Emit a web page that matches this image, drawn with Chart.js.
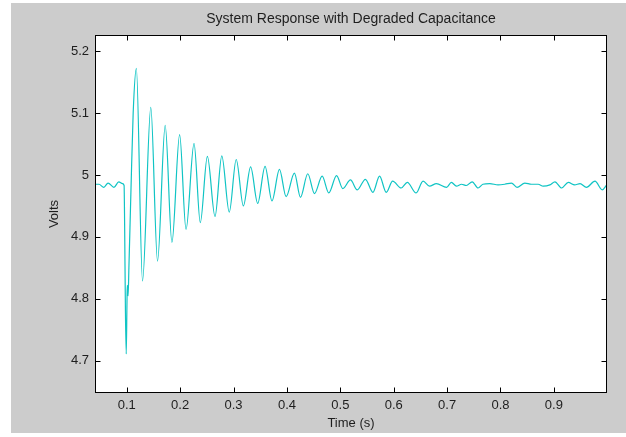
<!DOCTYPE html>
<html>
<head>
<meta charset="utf-8">
<script src="https://cdn.jsdelivr.net/npm/chart.js@4/dist/chart.umd.min.js"></script>
<style>
  html, body { margin: 0; padding: 0; background: #ffffff; width: 626px; height: 437px; overflow: hidden; }
  #wrap { position: absolute; left: 11px; top: 3px; width: 615px; height: 430px; background: #cccccc; }
</style>
</head>
<body>
<div id="wrap"><canvas id="c"></canvas></div>
<script>
// ---- data ----
const timeS = [
  0.040, 0.048, 0.057, 0.065, 0.076, 0.085, 0.092, 0.095,
  0.096, 0.0975, 0.099, 0.1005, 0.101, 0.1025, 0.104, 0.108, 0.112,
  0.118, 0.1295, 0.145, 0.1576, 0.172, 0.1846, 0.199, 0.211,
  0.226, 0.2377, 0.251, 0.2653, 0.278, 0.292, 0.305, 0.3184,
  0.332, 0.3452, 0.359, 0.372, 0.386, 0.3985, 0.414, 0.4253,
  0.439, 0.4516, 0.466, 0.4784, 0.493, 0.5047, 0.519, 0.5317,
  0.547, 0.561, 0.5735, 0.586, 0.598, 0.614, 0.6255, 0.642,
  0.655, 0.667, 0.680, 0.699, 0.708, 0.7175, 0.727, 0.736,
  0.747, 0.758, 0.767, 0.780, 0.7955, 0.808, 0.8206, 0.831,
  0.8456, 0.858, 0.8705, 0.880, 0.8925, 0.902, 0.9145, 0.927,
  0.939, 0.949, 0.961, 0.977, 0.9906, 0.999
];
const volts = [
  4.985, 4.985, 4.980, 4.987, 4.980, 4.989, 4.986, 4.983,
  4.920, 4.780, 4.711, 4.800, 4.822, 4.805, 4.850, 4.980, 5.100,
  5.172, 4.829, 5.109, 4.861, 5.080, 4.891, 5.065, 4.912,
  5.051, 4.923, 5.030, 4.933, 5.031, 4.940, 5.025, 4.950,
  5.013, 4.954, 5.014, 4.958, 5.009, 4.965, 5.003, 4.964,
  5.002, 4.970, 4.998, 4.971, 4.999, 4.978, 4.992, 4.976,
  4.993, 4.972, 4.998, 4.972, 4.990, 4.979, 4.988, 4.971,
  4.990, 4.982, 4.986, 4.980, 4.988, 4.982, 4.985, 4.983,
  4.989, 4.979, 4.985, 4.986, 4.984, 4.985, 4.987, 4.980,
  4.987, 4.985, 4.985, 4.982, 4.984, 4.989, 4.979, 4.988,
  4.984, 4.986, 4.980, 4.990, 4.976, 4.984
];
const xTickValues = [0.1, 0.2, 0.3, 0.4, 0.5, 0.6, 0.7, 0.8, 0.9];
const yTickValues = [4.7, 4.8, 4.9, 5, 5.1, 5.2];
const xLimits = [0.0405, 0.9995];
const yLimits = [4.648, 5.226];
const chartTitle = 'System Response with Degraded Capacitance';
const xTitle = 'Time (s)';
const yTitle = 'Volts';

const points = timeS.map((t, i) => ({ x: t, y: volts[i] }));
const FONT = '"Liberation Sans", Arial, Helvetica, sans-serif';
const TEXT = '#1e1e1e';

const boxPlugin = {
  id: 'matlabBox',
  beforeDraw(chart) {
    const { ctx, chartArea: a } = chart;
    ctx.save();
    ctx.fillStyle = '#ffffff';
    ctx.fillRect(a.left, a.top, a.right - a.left, a.bottom - a.top);
    ctx.restore();
  },
  afterDraw(chart) {
    const { ctx, chartArea: a, scales } = chart;
    const L = Math.round(a.left) + 0.5, R = Math.round(a.right) - 0.5;
    const T = Math.round(a.top) + 0.5, B = Math.round(a.bottom) - 0.5;
    const len = 5;
    ctx.save();
    ctx.strokeStyle = '#000000';
    ctx.lineWidth = 1;
    ctx.beginPath();
    scales.x.ticks.forEach(tk => {
      const px = Math.round(scales.x.getPixelForValue(tk.value)) + 0.5;
      ctx.moveTo(px, B); ctx.lineTo(px, B - len);
      ctx.moveTo(px, T); ctx.lineTo(px, T + len);
    });
    scales.y.ticks.forEach(tk => {
      const py = Math.round(scales.y.getPixelForValue(tk.value)) + 0.5;
      ctx.moveTo(L, py); ctx.lineTo(L + len, py);
      ctx.moveTo(R, py); ctx.lineTo(R - len, py);
    });
    ctx.stroke();
    ctx.strokeRect(L, T, R - L, B - T);
    ctx.restore();
  }
};

new Chart(document.getElementById('c'), {
  type: 'line',
  data: {
    datasets: [{
      data: points,
      borderColor: '#10c4c4',
      borderWidth: 1.2,
      pointRadius: 0,
      fill: false,
      cubicInterpolationMode: 'monotone'
    }]
  },
  options: {
    responsive: true,
    maintainAspectRatio: false,
    animation: false,
    devicePixelRatio: 1,
    layout: { padding: { left: 0, right: 19, top: 0, bottom: 0 } },
    plugins: {
      legend: { display: false },
      tooltip: { enabled: false },
      title: {
        display: true,
        text: chartTitle,
        fullSize: false,
        color: TEXT,
        font: { family: FONT, size: 14, weight: 'normal', lineHeight: 1.2 },
        padding: { top: 8, bottom: 7.2 }
      }
    },
    scales: {
      x: {
        type: 'linear',
        min: xLimits[0],
        max: xLimits[1],
        afterBuildTicks: s => { s.ticks = xTickValues.map(v => ({ value: v })); },
        afterFit: s => { s.height = 40; },
        grid: { display: false, drawTicks: false },
        border: { display: false },
        ticks: {
          color: TEXT,
          padding: 5,
          maxRotation: 0,
          autoSkip: false,
          callback: v => String(v),
          font: { family: FONT, size: 13 }
        },
        title: {
          display: true,
          text: xTitle,
          color: TEXT,
          font: { family: FONT, size: 13, lineHeight: 1.2 },
          padding: { top: 0, bottom: 2 }
        }
      },
      y: {
        type: 'linear',
        min: yLimits[0],
        max: yLimits[1],
        afterBuildTicks: s => { s.ticks = yTickValues.map(v => ({ value: v })); },
        afterFit: s => { s.width = 84; },
        grid: { display: false, drawTicks: false },
        border: { display: false },
        ticks: {
          color: TEXT,
          padding: 6,
          autoSkip: false,
          callback: v => String(v),
          font: { family: FONT, size: 13 }
        },
        title: {
          display: true,
          text: yTitle,
          color: TEXT,
          font: { family: FONT, size: 13, lineHeight: 1.2 },
          padding: { top: 36, bottom: 0 }
        }
      }
    }
  },
  plugins: [boxPlugin]
});
</script>
</body>
</html>
